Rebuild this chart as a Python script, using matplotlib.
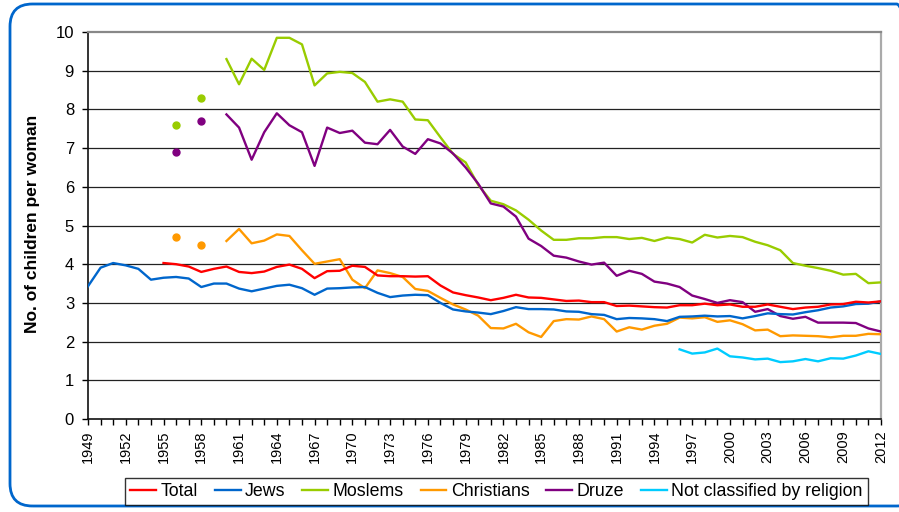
import matplotlib
matplotlib.use("Agg")
import matplotlib.pyplot as plt
from matplotlib.patches import FancyBboxPatch
import numpy as np

plt.rcParams['font.family'] = ['Liberation Sans', 'DejaVu Sans']

# ---------------- data ----------------
years_jews = list(range(1949, 2013))
jews = [3.43, 3.91, 4.03, 3.97, 3.88, 3.60, 3.65, 3.67, 3.63, 3.41,
        3.50, 3.50, 3.37, 3.30, 3.37, 3.44, 3.47, 3.38, 3.21, 3.37,
        3.38, 3.40, 3.41, 3.26, 3.15, 3.19, 3.21, 3.20, 3.00, 2.83,
        2.78, 2.75, 2.71, 2.79, 2.89, 2.84, 2.84, 2.83, 2.78, 2.77,
        2.71, 2.69, 2.58, 2.61, 2.60, 2.58, 2.53, 2.64, 2.65, 2.67,
        2.65, 2.66, 2.60, 2.66, 2.73, 2.71, 2.70, 2.76, 2.81, 2.88,
        2.91, 2.97, 2.98, 3.04]

years_total = list(range(1955, 2013))
total = [4.03, 4.00, 3.94, 3.80, 3.88, 3.94, 3.80, 3.77, 3.81, 3.93,
         3.99, 3.88, 3.64, 3.82, 3.83, 3.96, 3.93, 3.71, 3.69, 3.69,
         3.68, 3.69, 3.45, 3.27, 3.20, 3.14, 3.07, 3.13, 3.21, 3.14,
         3.13, 3.09, 3.05, 3.06, 3.02, 3.02, 2.92, 2.93, 2.91, 2.89,
         2.88, 2.94, 2.94, 2.98, 2.94, 2.96, 2.90, 2.90, 2.96, 2.90,
         2.84, 2.88, 2.90, 2.96, 2.97, 3.03, 3.01, 3.04]

years_minor = list(range(1960, 2013))
moslems = [9.30, 8.65, 9.31, 9.02, 9.85, 9.85, 9.68, 8.62, 8.93, 8.97,
           8.94, 8.71, 8.20, 8.26, 8.20, 7.74, 7.72, 7.28, 6.85, 6.63,
           6.05, 5.64, 5.55, 5.39, 5.15, 4.87, 4.63, 4.63, 4.67, 4.67,
           4.70, 4.70, 4.65, 4.68, 4.60, 4.69, 4.65, 4.56, 4.76, 4.69,
           4.73, 4.70, 4.58, 4.49, 4.36, 4.03, 3.96, 3.90, 3.83, 3.73,
           3.75, 3.51, 3.53]
christians = [4.60, 4.91, 4.54, 4.61, 4.77, 4.73, 4.36, 4.01, 4.07, 4.13,
              3.60, 3.38, 3.84, 3.77, 3.67, 3.36, 3.31, 3.13, 2.96, 2.83,
              2.67, 2.35, 2.34, 2.46, 2.24, 2.12, 2.53, 2.58, 2.57, 2.65,
              2.58, 2.26, 2.37, 2.31, 2.41, 2.46, 2.62, 2.60, 2.63, 2.51,
              2.55, 2.45, 2.29, 2.31, 2.14, 2.16, 2.15, 2.14, 2.11, 2.15,
              2.15, 2.20, 2.19]
druze = [7.87, 7.53, 6.70, 7.41, 7.90, 7.59, 7.41, 6.54, 7.53, 7.39,
         7.45, 7.14, 7.10, 7.47, 7.04, 6.85, 7.23, 7.12, 6.86, 6.50,
         6.08, 5.57, 5.49, 5.23, 4.66, 4.47, 4.22, 4.17, 4.07, 3.99,
         4.04, 3.70, 3.83, 3.75, 3.55, 3.50, 3.41, 3.19, 3.10, 3.00,
         3.07, 3.02, 2.77, 2.84, 2.66, 2.59, 2.64, 2.49, 2.49, 2.49,
         2.48, 2.34, 2.26]

years_dots = [1956, 1958]
moslems_dots = [7.6, 8.3]
christians_dots = [4.7, 4.5]
druze_dots = [6.9, 7.7]

years_nc = list(range(1996, 2013))
not_classified = [1.80, 1.69, 1.72, 1.82, 1.62, 1.59, 1.54, 1.56, 1.47,
                  1.49, 1.55, 1.49, 1.57, 1.56, 1.64, 1.75, 1.68]

xtick_years = list(range(1949, 2013, 3))
yticks = list(range(0, 11))

labels = ["Total", "Jews", "Moslems", "Christians", "Druze",
          "Not classified by religion"]
colors = {"Total": "#ff0000", "Jews": "#0066cc", "Moslems": "#99cc00",
          "Christians": "#ff9900", "Druze": "#800080",
          "Not classified by religion": "#00ccff"}

# ---------------- figure ----------------
W, H = 899, 512
fig = plt.figure(figsize=(W / 100, H / 100), dpi=100)
ax = fig.add_axes([88 / W, 1 - 419 / H, (881 - 88) / W, (419 - 32) / H])

# outer rounded border
border = FancyBboxPatch((10 / W, 6 / H), (W + 20 - 10) / W, (508 - 6) / H,
                        boxstyle="round,pad=0,rounding_size=0.025",
                        transform=fig.transFigure, fill=False,
                        edgecolor="#0066cc", linewidth=2.0, clip_on=False,
                        mutation_aspect=W / H)
fig.patches.append(border)

lw = 1.7
ax.plot(years_total, total, color=colors["Total"], lw=lw, label="Total", zorder=5)
ax.plot(years_jews, jews, color=colors["Jews"], lw=lw, label="Jews", zorder=4)
ax.plot(years_minor, moslems, color=colors["Moslems"], lw=lw, label="Moslems", zorder=3)
ax.plot(years_minor, christians, color=colors["Christians"], lw=lw, label="Christians", zorder=3)
ax.plot(years_minor, druze, color=colors["Druze"], lw=lw, label="Druze", zorder=3)
ax.plot(years_nc, not_classified, color=colors["Not classified by religion"], lw=lw,
        label="Not classified by religion", zorder=3)

ax.plot(years_dots, moslems_dots, 'o', color=colors["Moslems"], ms=5, ls='none')
ax.plot(years_dots, christians_dots, 'o', color=colors["Christians"], ms=5, ls='none')
ax.plot(years_dots, druze_dots, 'o', color=colors["Druze"], ms=5, ls='none')

ax.set_xlim(1949, 2012)
ax.set_ylim(0, 10)
ax.set_yticks(yticks)
ax.set_xticks(list(range(1949, 2013)), minor=False)
ax.set_xticklabels([str(y) if y in xtick_years else "" for y in range(1949, 2013)],
                   rotation=90, fontsize=10.5)
ax.tick_params(axis='y', labelsize=12, length=4, width=1, pad=6)
ax.tick_params(axis='x', length=4, width=1, pad=4)

for v in yticks[1:10]:
    ax.axhline(v, color="#222222", lw=0.9, zorder=1)

for s in ["left", "bottom"]:
    ax.spines[s].set_color("#111111")
    ax.spines[s].set_linewidth(1.2)
ax.spines["top"].set_color("#888888")
ax.spines["top"].set_linewidth(1.6)
ax.spines["right"].set_color("#aaaaaa")
ax.spines["right"].set_linewidth(1.6)

fig.text(33 / W, 1 - 224 / H, "No. of children per woman", rotation=90,
         ha="center", va="center", fontsize=12.5, fontweight="bold")

handles, lbls = ax.get_legend_handles_labels()
leg = fig.legend(handles, lbls, loc="center", bbox_to_anchor=(496.5 / W, 1 - 491.5 / H),
                 ncol=6, fontsize=12.8, frameon=True, fancybox=False,
                 edgecolor="black", handlelength=1.45, handletextpad=0.25,
                 columnspacing=0.95, borderpad=0.3, borderaxespad=0)
leg.get_frame().set_linewidth(1.0)

fig.savefig("out.png", dpi=100)
